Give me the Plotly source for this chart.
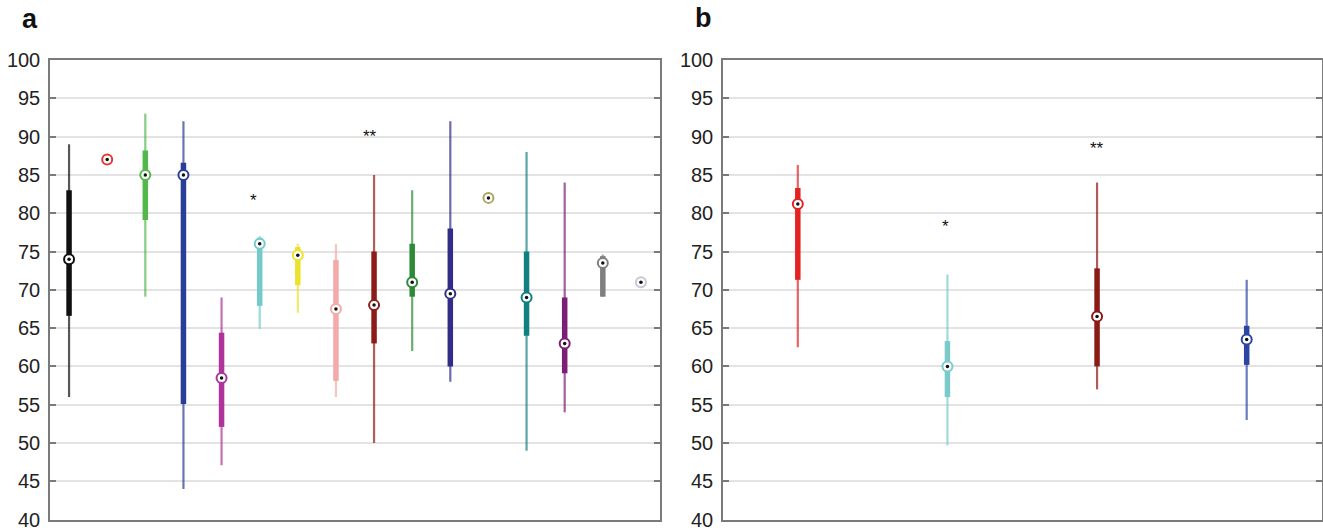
import plotly.graph_objects as go

# ---------------- data: panel a ----------------
pos_a = list(range(1, 17))
colors_a = ["#111111", "#e23a36", "#52b84c", "#2a3d97", "#ad349c", "#72cacb",
            "#ece22c", "#f4aaaa", "#8c1c17", "#2d8a38", "#302c88", "#aca45c",
            "#138080", "#7c1d76", "#7f7f7f", "#c9c6d8"]
wlo_a = [56, 87, 69.1, 44, 47.1, 64.9, 67, 56, 50, 62, 58, 82, 49, 54, 69.1, 71]
q1_a = [66.6, 87, 79.1, 55.1, 52.1, 67.9, 70.6, 58.1, 63, 69.1, 60, 82, 64, 59.1, 69.1, 71]
med_a = [74, 87, 85, 85, 58.5, 76, 74.5, 67.5, 68, 71, 69.5, 82, 69, 63, 73.5, 71]
q3_a = [83, 87, 88.2, 86.6, 64.4, 76.8, 75.6, 73.9, 75, 76, 78, 82, 75, 69, 74.4, 71]
whi_a = [89, 87, 93, 92, 69, 77, 76, 76, 85, 83, 92, 82, 88, 84, 74.6, 71]
stars_a = [("*", 5.85, 81.7), ("**", 8.9, 90.0)]

# ---------------- data: panel b ----------------
pos_b = [1, 2, 3, 4]
colors_b = ["#e42222", "#7ccaca", "#8b1a14", "#2c45a2"]
wlo_b = [62.5, 49.7, 57, 53]
q1_b = [71.3, 56, 60, 60.2]
med_b = [81.2, 60, 66.5, 63.5]
q3_b = [83.3, 63.3, 72.8, 65.3]
whi_b = [86.3, 72, 84, 71.3]
stars_b = [("*", 1.99, 78.2), ("**", 3.0, 88.5)]

yticks = list(range(40, 101, 5))

fig = go.Figure()


def add_panel(pos, colors, wlo, q1, med, q3, whi, xa, ya):
    for p, c, lo, a, m, b, hi in zip(pos, colors, wlo, q1, med, q3, whi):
        fig.add_trace(go.Scatter(x=[p, p], y=[lo, hi], mode="lines",
                                 line=dict(color=c, width=2.2), opacity=0.7,
                                 xaxis=xa, yaxis=ya, showlegend=False,
                                 hoverinfo="skip"))
        fig.add_trace(go.Scatter(x=[p, p], y=[a, b], mode="lines",
                                 line=dict(color=c, width=5.5),
                                 xaxis=xa, yaxis=ya, showlegend=False,
                                 hoverinfo="skip"))
        fig.add_trace(go.Scatter(x=[p], y=[m], mode="markers",
                                 marker=dict(symbol="circle", size=10, color="white",
                                             line=dict(color=c, width=2)),
                                 xaxis=xa, yaxis=ya, showlegend=False,
                                 hoverinfo="skip"))
        fig.add_trace(go.Scatter(x=[p], y=[m], mode="markers",
                                 marker=dict(symbol="circle", size=3.5, color="#111111"),
                                 xaxis=xa, yaxis=ya, showlegend=False,
                                 hoverinfo="skip"))


add_panel(pos_a, colors_a, wlo_a, q1_a, med_a, q3_a, whi_a, "x", "y")
add_panel(pos_b, colors_b, wlo_b, q1_b, med_b, q3_b, whi_b, "x2", "y2")

W, H = 1323, 530
ytop = 1 - 60 / H
ybot = 1 - 519.6 / H

common_y = dict(range=[40, 100], tickvals=yticks, ticktext=[str(t) for t in yticks],
                showgrid=True, gridcolor="#e3e3e3", gridwidth=1.5,
                showline=True, linecolor="#7a7a7a", linewidth=1.5, mirror="ticks",
                ticks="inside", ticklen=6, tickcolor="#7a7a7a", tickwidth=1.5,
                zeroline=False, domain=[ybot, ytop], automargin=False,
                ticklabeloverflow="allow",
                tickfont=dict(family="Liberation Sans, Arial, sans-serif", size=20,
                              color="#222222"),
                ticklabelstandoff=4, fixedrange=True)
common_x = dict(showgrid=False, zeroline=False, showticklabels=False, ticks="",
                showline=True, linecolor="#7a7a7a", linewidth=1.5, mirror=True,
                automargin=False, fixedrange=True)

annotations = []
for txt, x, y in stars_a:
    annotations.append(dict(text=txt, x=x, y=y, xref="x", yref="y", showarrow=False,
                            font=dict(family="Liberation Sans, Arial", size=17,
                                      color="#111111")))
for txt, x, y in stars_b:
    annotations.append(dict(text=txt, x=x, y=y, xref="x2", yref="y2", showarrow=False,
                            font=dict(family="Liberation Sans, Arial", size=17,
                                      color="#111111")))
annotations.append(dict(text="<b>a</b>", x=30 / W, y=1 - 19 / H, xref="paper",
                        yref="paper", showarrow=False, xanchor="center", yanchor="middle",
                        font=dict(family="Liberation Sans, Arial", size=27,
                                  color="#111111")))
annotations.append(dict(text="<b>b</b>", x=703 / W, y=1 - 18 / H, xref="paper",
                        yref="paper", showarrow=False, xanchor="center", yanchor="middle",
                        font=dict(family="Liberation Sans, Arial", size=27,
                                  color="#111111")))

fig.update_layout(
    template="none",
    width=W, height=H,
    margin=dict(l=0, r=0, t=0, b=0, pad=0, autoexpand=False),
    paper_bgcolor="white", plot_bgcolor="white",
    xaxis=dict(common_x, range=[0.5, 16.5], domain=[50 / W, 660 / W], anchor="y"),
    yaxis=dict(common_y, anchor="x"),
    xaxis2=dict(common_x, range=[0.5, 4.5], domain=[723 / W, 1321.5 / W], anchor="y2"),
    yaxis2=dict(common_y, anchor="x2"),
    annotations=annotations,
    showlegend=False,
)

fig.write_html("out.html", config={"displayModeBar": False})
